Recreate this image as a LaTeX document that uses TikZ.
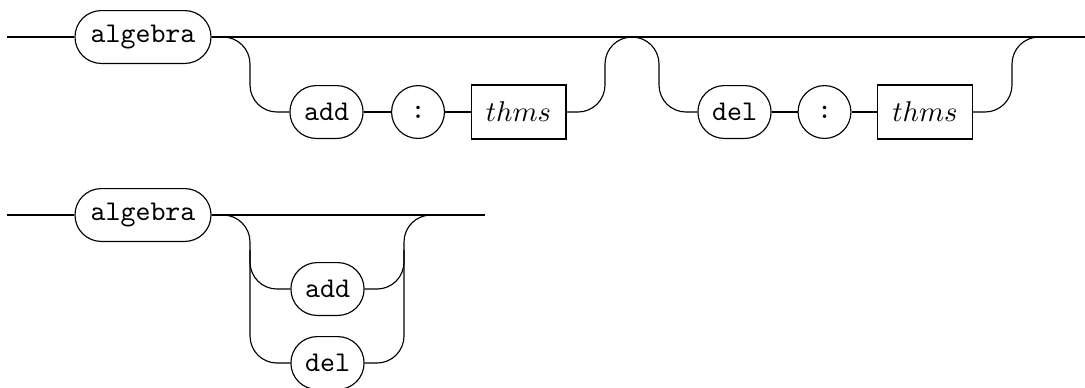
\documentclass[tikz,border=0pt]{standalone}
\usetikzlibrary{positioning}
\tikzset{
  terminal/.style={draw, rounded corners=9.2pt, minimum height=18.5pt, inner sep=0pt, font=\ttfamily},
  colonsym/.style={draw, circle, minimum size=18.5pt, inner sep=0pt, font=\ttfamily},
  nonterminal/.style={draw, rectangle, minimum width=33.2pt, minimum height=18.9pt, inner sep=0pt},
  rail/.style={rounded corners=9.45pt}
}
\begin{document}
\begin{tikzpicture}[x=0.35pt, y=-0.35pt]
  \useasboundingbox (0,0) rectangle (1085,387);
  % algebra with optional add and del parts
  \node[terminal, minimum width=47.6pt] (alg1) at (143,37) {algebra};
  \node[terminal, minimum width=25.6pt] (add1) at (326.5,112) {add};
  \node[colonsym] (col1) at (418,112) {:};
  \node[nonterminal] (thms1) at (518.5,112) {$thms$};
  \node[terminal, minimum width=25.6pt] (del1) at (734.5,112) {del};
  \node[colonsym] (col2) at (824.5,112) {:};
  \node[nonterminal] (thms2) at (925,112) {$thms$};
  \coordinate (in1) at (7,37);
  \coordinate (out1) at (1085,37);
  \draw (in1) -- (alg1) (alg1) -- (out1);
  \draw (add1) -- (col1) -- (thms1) (del1) -- (col2) -- (thms2);
  \draw[rail] (alg1.east) -| (250,112) -- (add1.west);
  \draw[rail] (thms1.east) -| (605,37) -| (659,112) -- (del1.west);
  \draw[rail] (thms2.east) -| (1012,37) -- (1045,37);
  % algebra with a choice of add or del
  \node[terminal, minimum width=47.6pt] (alg2) at (143,215) {algebra};
  \node[terminal, minimum width=25.6pt] (add2) at (327.5,289) {add};
  \node[terminal, minimum width=25.6pt] (del2) at (327.5,363) {del};
  \coordinate (in2) at (7,215);
  \coordinate (out2) at (485,215);
  \draw (in2) -- (alg2) (alg2) -- (out2);
  \draw[rail] (alg2.east) -| (250,363) -- (del2.west);
  \draw[rail] (250,250) |- (add2.west);
  \draw[rail] (del2.east) -| (404,215) -- (440,215);
  \draw[rail] (add2.east) -| (404,250);
\end{tikzpicture}
\end{document}
